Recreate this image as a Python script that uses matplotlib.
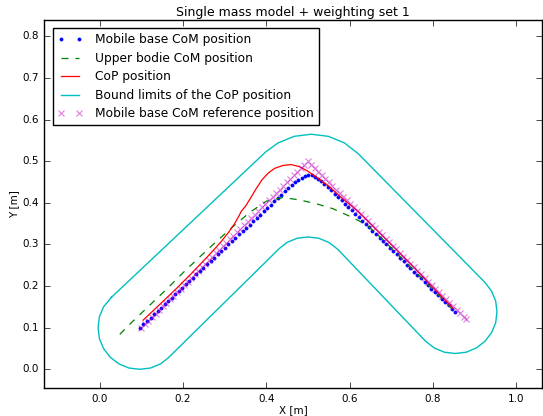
import matplotlib
matplotlib.use("Agg")
import matplotlib.pyplot as plt

# mobile base CoM trajectory
base_x = [0.096, 0.104, 0.113, 0.122, 0.130, 0.139, 0.147, 0.156, 0.164, 0.173,
          0.181, 0.190, 0.198, 0.207, 0.215, 0.224, 0.232, 0.241, 0.249, 0.258,
          0.266, 0.275, 0.283, 0.292, 0.300, 0.309, 0.317, 0.326, 0.334, 0.343,
          0.351, 0.360, 0.368, 0.377, 0.385, 0.394, 0.402, 0.411, 0.419, 0.428,
          0.436, 0.445, 0.453, 0.461, 0.469, 0.477, 0.485, 0.493, 0.501, 0.509,
          0.517, 0.524, 0.531, 0.539, 0.548, 0.556, 0.564, 0.573, 0.581, 0.589,
          0.597, 0.606, 0.614, 0.622, 0.630, 0.639, 0.647, 0.655, 0.664, 0.672,
          0.680, 0.688, 0.697, 0.705, 0.713, 0.722, 0.730, 0.738, 0.746, 0.755,
          0.763, 0.771, 0.780, 0.788, 0.796, 0.804, 0.813, 0.821, 0.829, 0.838,
          0.846, 0.854]
base_y = [0.100, 0.108, 0.116, 0.124, 0.132, 0.140, 0.148, 0.156, 0.164, 0.172,
          0.180, 0.188, 0.196, 0.204, 0.212, 0.220, 0.228, 0.236, 0.244, 0.252,
          0.260, 0.268, 0.276, 0.284, 0.292, 0.300, 0.308, 0.316, 0.324, 0.332,
          0.340, 0.348, 0.356, 0.364, 0.372, 0.380, 0.388, 0.396, 0.404, 0.412,
          0.420, 0.428, 0.436, 0.443, 0.450, 0.456, 0.461, 0.464, 0.466, 0.466,
          0.463, 0.458, 0.452, 0.446, 0.438, 0.430, 0.422, 0.414, 0.406, 0.398,
          0.390, 0.382, 0.374, 0.366, 0.357, 0.349, 0.341, 0.333, 0.325, 0.316,
          0.308, 0.300, 0.292, 0.284, 0.276, 0.268, 0.260, 0.251, 0.243, 0.235,
          0.227, 0.219, 0.210, 0.202, 0.194, 0.186, 0.178, 0.170, 0.162, 0.154,
          0.146, 0.138]

# upper body CoM
upper_x = [0.048, 0.08, 0.12, 0.16, 0.20, 0.24, 0.28, 0.32, 0.36, 0.40, 0.44,
           0.48, 0.52, 0.56, 0.60, 0.64, 0.68, 0.72, 0.76, 0.80, 0.85]
upper_y = [0.084, 0.116, 0.154, 0.192, 0.232, 0.270, 0.307, 0.343, 0.377, 0.404, 0.413,
           0.407, 0.398, 0.386, 0.368, 0.348, 0.312, 0.272, 0.232, 0.192, 0.142]

# CoP
cop_x = [0.104, 0.14, 0.18, 0.22, 0.26, 0.29, 0.31, 0.325, 0.335, 0.34, 0.35, 0.36,
         0.375, 0.39, 0.405, 0.42, 0.44, 0.46, 0.48, 0.50, 0.52, 0.55, 0.58, 0.62,
         0.66, 0.70, 0.75, 0.80, 0.85]
cop_y = [0.118, 0.152, 0.190, 0.230, 0.272, 0.305, 0.330, 0.352, 0.370, 0.380, 0.392, 0.408,
         0.433, 0.456, 0.472, 0.483, 0.490, 0.492, 0.487, 0.476, 0.462, 0.440, 0.413, 0.380,
         0.340, 0.300, 0.250, 0.197, 0.145]

# bound limits of the CoP (closed contour)
bound_x = [0.028, 0.009, -0.001, -0.004, -0.001, 0.009, 0.025, 0.046, 0.070, 0.096, 0.122, 0.146, 0.164,
           0.432, 0.450, 0.474, 0.500, 0.526, 0.550, 0.571,
           0.783, 0.804, 0.828, 0.854, 0.880, 0.904, 0.925, 0.941, 0.951, 0.954, 0.951, 0.941, 0.925,
           0.621, 0.588, 0.549, 0.508, 0.467, 0.428, 0.398,
           0.028]
bound_y = [0.173, 0.150, 0.126, 0.100, 0.074, 0.050, 0.029, 0.013, 0.003, 0.000, 0.003, 0.013, 0.027,
           0.291, 0.305, 0.315, 0.318, 0.315, 0.305, 0.289,
           0.067, 0.051, 0.041, 0.038, 0.041, 0.051, 0.067, 0.088, 0.112, 0.138, 0.164, 0.188, 0.209,
           0.518, 0.544, 0.560, 0.565, 0.560, 0.544, 0.522,
           0.173]

# mobile base CoM reference
ref_x = [0.100, 0.109, 0.117, 0.126, 0.134, 0.143, 0.151, 0.160, 0.168, 0.177, 0.185, 0.194,
         0.202, 0.211, 0.219, 0.228, 0.236, 0.245, 0.253, 0.262, 0.270, 0.279, 0.287, 0.296,
         0.304, 0.313, 0.321, 0.330, 0.338, 0.347, 0.355, 0.364, 0.372, 0.381, 0.389, 0.398,
         0.406, 0.415, 0.423, 0.432, 0.440, 0.449, 0.457, 0.466, 0.474, 0.483, 0.491, 0.500,
         0.508, 0.517, 0.525, 0.534, 0.542, 0.551, 0.559, 0.568, 0.576, 0.585, 0.593, 0.602,
         0.610, 0.619, 0.627, 0.636, 0.644, 0.653, 0.661, 0.670, 0.678, 0.687, 0.695, 0.704,
         0.712, 0.721, 0.729, 0.738, 0.746, 0.755, 0.763, 0.772, 0.780, 0.789, 0.797, 0.806,
         0.814, 0.823, 0.831, 0.840, 0.848, 0.857, 0.865, 0.874, 0.880]
ref_y = [0.100, 0.109, 0.117, 0.126, 0.134, 0.143, 0.151, 0.160, 0.168, 0.177, 0.185, 0.194,
         0.202, 0.211, 0.219, 0.228, 0.236, 0.245, 0.253, 0.262, 0.270, 0.279, 0.287, 0.296,
         0.304, 0.313, 0.321, 0.330, 0.338, 0.347, 0.355, 0.364, 0.372, 0.381, 0.389, 0.398,
         0.406, 0.415, 0.423, 0.432, 0.440, 0.449, 0.457, 0.466, 0.474, 0.483, 0.491, 0.500,
         0.492, 0.483, 0.475, 0.466, 0.458, 0.449, 0.441, 0.432, 0.424, 0.415, 0.407, 0.398,
         0.390, 0.381, 0.373, 0.364, 0.356, 0.347, 0.339, 0.330, 0.322, 0.313, 0.305, 0.296,
         0.288, 0.279, 0.271, 0.262, 0.254, 0.245, 0.237, 0.228, 0.220, 0.211, 0.203, 0.194,
         0.186, 0.177, 0.169, 0.160, 0.152, 0.143, 0.135, 0.126, 0.120]

xticks = [0.0, 0.2, 0.4, 0.6, 0.8, 1.0]
yticks = [0.0, 0.1, 0.2, 0.3, 0.4, 0.5, 0.6, 0.7, 0.8]

plt.style.use('classic')
plt.rcParams['font.family'] = 'DejaVu Sans'

fig = plt.figure(figsize=(5.43, 4.16), dpi=100, facecolor='white')
ax = fig.add_axes([0.081, 0.0673, 0.917, 0.885])

ax.plot(base_x, base_y, 'b.', ms=4.5, label='Mobile base CoM position')
ax.plot(upper_x, upper_y, 'g--', lw=0.9, dashes=(5, 5), label='Upper bodie CoM position')
ax.plot(cop_x, cop_y, 'r-', lw=0.9, label='CoP position')
ax.plot(bound_x, bound_y, 'c-', lw=1.0, label='Bound limits of the CoP position')
ax.plot(ref_x, ref_y, 'x', color='m', alpha=0.5, ms=5, mew=0.8,
        label='Mobile base CoM reference position')

ax.set_xlim(-0.134, 1.062)
ax.set_ylim(-0.045, 0.84)
ax.set_xticks(xticks)
ax.set_yticks(yticks)
ax.tick_params(labelsize=7.5, direction='in', length=4)
ax.set_xlabel('X [m]', fontsize=7.5, labelpad=1)
ax.set_ylabel('Y [m]', fontsize=7.5, labelpad=2)
ax.set_title('Single mass model + weighting set 1', fontsize=9, pad=3)

ax.legend(loc='upper left', fontsize=8.8, numpoints=2, fancybox=False,
          borderpad=0.4, labelspacing=0.45, handlelength=2.1, handletextpad=1.0,
          borderaxespad=0.7)

fig.savefig('out.png', dpi=100, facecolor='white')
